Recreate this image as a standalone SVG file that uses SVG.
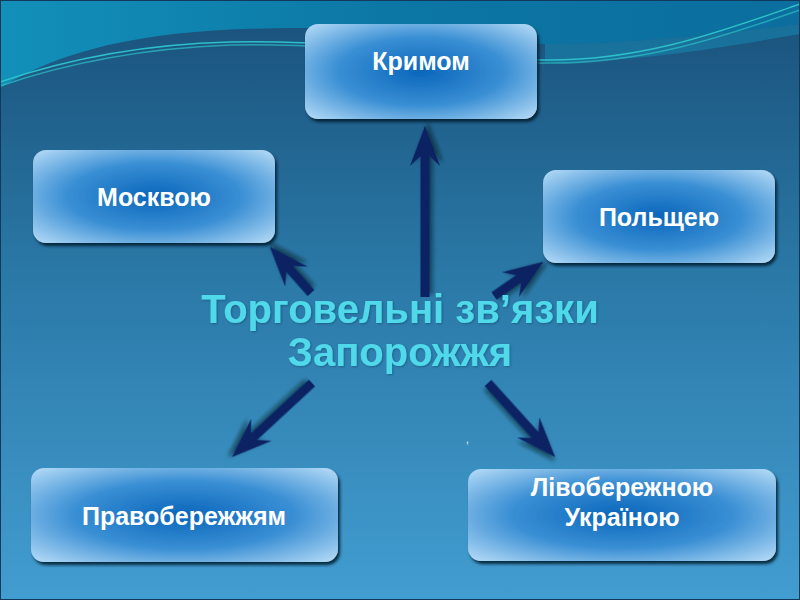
<svg xmlns="http://www.w3.org/2000/svg" width="800" height="600" viewBox="0 0 800 600">
  <defs>
    <linearGradient id="bg" x1="0" y1="0" x2="0" y2="1">
      <stop offset="0" stop-color="#19507a"/>
      <stop offset="0.45" stop-color="#2a78a6"/>
      <stop offset="1" stop-color="#429dd0"/>
    </linearGradient>
    <linearGradient id="top" x1="0" y1="0" x2="1" y2="0">
      <stop offset="0" stop-color="#1290ba"/>
      <stop offset="0.5" stop-color="#0c76a4"/>
      <stop offset="1" stop-color="#0b6e9e"/>
    </linearGradient>
    <radialGradient id="box" cx="0.5" cy="0.5" r="0.72">
      <stop offset="0" stop-color="#0a66bb"/>
      <stop offset="0.5" stop-color="#3a8fd4"/>
      <stop offset="1" stop-color="#bde0f9"/>
    </radialGradient>
    <filter id="bshadow" x="-10%" y="-10%" width="125%" height="130%">
      <feDropShadow dx="2" dy="3" stdDeviation="1.5" flood-color="#061a30" flood-opacity="0.9"/>
    </filter>
    <filter id="ashadow" x="-30%" y="-30%" width="160%" height="160%">
      <feDropShadow dx="3" dy="3" stdDeviation="2" flood-color="#000814" flood-opacity="0.55"/>
    </filter>
    <filter id="tshadow" x="-5%" y="-20%" width="110%" height="140%">
      <feDropShadow dx="1" dy="1" stdDeviation="1" flood-color="#0a3050" flood-opacity="0.4"/>
    </filter>
    <style>
      .box { fill: url(#box); filter: url(#bshadow); }
      .lbl { font-family: "Liberation Sans", Arial, sans-serif; font-weight: bold; font-size: 25px; fill: #ffffff; text-anchor: middle; }
      .title { font-family: "Liberation Sans", Arial, sans-serif; font-weight: bold; font-size: 40px; fill: #4fd9ea; text-anchor: middle; filter: url(#tshadow); }
      .arrow { fill: #0b2462; filter: url(#ashadow); }
      .wave { fill: none; stroke: #2ec0c8; stroke-width: 1.5; }
    </style>
  </defs>

  <!-- background -->
  <rect x="0" y="0" width="800" height="600" fill="url(#bg)"/>
  <path d="M0,0 L0,88 C70,45 160,28 300,28 C420,28 480,40 545,44 C640,44 730,32 800,24 L800,0 Z" fill="url(#top)"/>
  <path d="M545,44 C640,44 730,32 800,24 L800,34 C720,48 640,62 545,62 Z" fill="#1884ad" opacity="0.6"/>
  <path class="wave" d="M0,82 C70,58 150,44 230,42 C330,40 440,52 540,60 C640,62 720,32 800,4"/>
  <path class="wave" d="M0,86 C70,62 150,48 230,45 C330,43 440,56 540,63 C640,65 720,38 800,10" stroke-opacity="0.7"/>
  <rect x="0.5" y="0.5" width="799" height="599" fill="none" stroke="#13395a" stroke-width="1"/>

  <!-- connectors -->
  <g id="connectors">
    <path class="arrow" transform="translate(425,297) rotate(-90)" d="M0,-4.5 L141,-4.5 L131,-15 L171,0 L131,15 L141,4.5 L0,4.5 Z"/>
    <path class="arrow" transform="translate(311,293) rotate(-131.7)" d="M0,-4.5 L32,-4.5 L22,-15 L62,0 L22,15 L32,4.5 L0,4.5 Z"/>
    <path class="arrow" transform="translate(494,296) rotate(-34.8)" d="M0,-4.5 L30,-4.5 L20,-15 L60,0 L20,15 L30,4.5 L0,4.5 Z"/>
    <path class="arrow" transform="translate(312,383) rotate(137.2)" d="M0,-4.5 L79,-4.5 L69,-15 L109,0 L69,15 L79,4.5 L0,4.5 Z"/>
    <path class="arrow" transform="translate(488,383) rotate(47.8)" d="M0,-4.5 L70,-4.5 L60,-15 L100,0 L60,15 L70,4.5 L0,4.5 Z"/>
  </g>

  <!-- center title -->
  <g id="center">
    <text class="title" x="400" y="323">Торговельні зв’язки</text>
    <text class="title" x="400" y="366">Запорожжя</text>
  </g>

  <!-- nodes -->
  <g id="node-krym">
    <rect class="box" x="305" y="24" width="232" height="95" rx="13"/>
    <text class="lbl" x="421" y="70">Кримом</text>
  </g>
  <g id="node-moskva">
    <rect class="box" x="33" y="150" width="242" height="93" rx="13"/>
    <text class="lbl" x="154" y="206">Москвою</text>
  </g>
  <g id="node-polshcha">
    <rect class="box" x="543" y="170" width="232" height="93" rx="13"/>
    <text class="lbl" x="659" y="226">Польщею</text>
  </g>
  <g id="node-pravoberezhzhia">
    <rect class="box" x="31" y="468" width="307" height="94" rx="13"/>
    <text class="lbl" x="184" y="525">Правобережжям</text>
  </g>
  <g id="node-livoberezhna">
    <rect class="box" x="468" y="469" width="308" height="92" rx="13"/>
    <text class="lbl" x="622" y="496">Лівобережною</text>
    <text class="lbl" x="622" y="526">Україною</text>
  </g>

  <text x="466" y="443" font-family="Liberation Sans, Arial, sans-serif" font-size="10" fill="#ffffff">,</text>
</svg>
